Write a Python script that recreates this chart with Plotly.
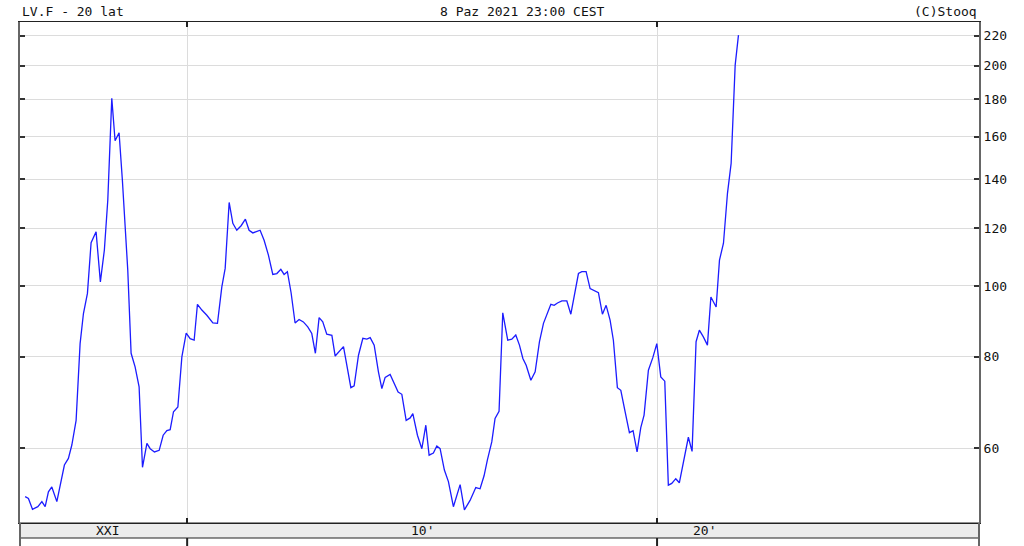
import datetime as dt
import plotly.graph_objects as go

# LV.F monthly closes (time as decimal year)
years = [
    2006.553, 2006.623, 2006.709, 2006.823, 2006.909, 2006.979, 2007.049, 2007.121, 2007.228, 2007.298,
    2007.389, 2007.474, 2007.547, 2007.638, 2007.723, 2007.794, 2007.879, 2007.957, 2008.064, 2008.155,
    2008.240, 2008.313, 2008.398, 2008.468, 2008.553, 2008.623, 2008.738, 2008.809, 2008.894, 2008.979,
    2009.049, 2009.143, 2009.213, 2009.304, 2009.404, 2009.489, 2009.568, 2009.638, 2009.709, 2009.802,
    2009.887, 2009.979, 2010.064, 2010.149, 2010.219, 2010.313, 2010.419, 2010.547, 2010.645, 2010.738,
    2010.809, 2010.894, 2010.972, 2011.057, 2011.149, 2011.240, 2011.319, 2011.398, 2011.483, 2011.553,
    2011.638, 2011.730, 2011.823, 2011.909, 2011.994, 2012.064, 2012.134, 2012.213, 2012.298, 2012.383,
    2012.474, 2012.568, 2012.653, 2012.730, 2012.809, 2012.887, 2012.972, 2013.079, 2013.149, 2013.240,
    2013.326, 2013.483, 2013.553, 2013.645, 2013.738, 2013.823, 2013.894, 2013.979, 2014.070, 2014.143,
    2014.213, 2014.319, 2014.404, 2014.489, 2014.568, 2014.660, 2014.745, 2014.802, 2014.900, 2014.994,
    2015.079, 2015.149, 2015.240, 2015.313, 2015.383, 2015.474, 2015.560, 2015.666, 2015.809, 2015.900,
    2016.021, 2016.143, 2016.234, 2016.319, 2016.389, 2016.483, 2016.553, 2016.638, 2016.717, 2016.823,
    2016.909, 2016.994, 2017.070, 2017.143, 2017.213, 2017.313, 2017.404, 2017.496, 2017.581, 2017.653,
    2017.738, 2017.809, 2017.879, 2017.972, 2018.079, 2018.164, 2018.255, 2018.326, 2018.398, 2018.489,
    2018.574, 2018.660, 2018.751, 2018.836, 2018.915, 2019.000, 2019.070, 2019.155, 2019.228, 2019.319,
    2019.411, 2019.489, 2019.574, 2019.653, 2019.723, 2019.815, 2019.909, 2019.994, 2020.079, 2020.164,
    2020.240, 2020.313, 2020.398, 2020.474, 2020.596, 2020.666, 2020.745, 2020.830, 2020.900, 2020.985,
    2021.070, 2021.143, 2021.255, 2021.326, 2021.411, 2021.496, 2021.574, 2021.660, 2021.730,
]
prices = [
    51.5, 51.2, 49.5, 49.9, 50.7, 49.9, 52.3, 53.1, 50.7, 53.1,
    56.9, 58.1, 60.6, 65.5, 83.4, 91.7, 97.7, 114.6, 118.6, 101.3,
    112.0, 131.1, 180.6, 158.0, 162.0, 139.6, 105.1, 80.9, 77.5, 72.8,
    56.5, 60.9, 59.9, 59.3, 59.6, 62.5, 63.4, 63.6, 67.3, 68.3,
    80.0, 86.2, 84.7, 84.3, 94.4, 92.7, 91.2, 89.0, 88.9, 99.7,
    105.7, 130.1, 121.8, 119.2, 120.9, 123.4, 119.2, 118.2, 118.6, 119.2,
    115.5, 110.2, 103.7, 104.0, 105.4, 103.7, 104.6, 97.9, 89.0, 90.0,
    89.3, 87.9, 86.1, 80.9, 90.5, 89.3, 85.9, 85.6, 80.2, 81.5,
    82.6, 72.6, 73.0, 80.4, 84.8, 84.6, 85.0, 83.0, 76.3, 72.4,
    75.0, 75.7, 73.7, 71.6, 71.1, 65.5, 66.0, 66.9, 62.5, 59.9,
    64.5, 58.7, 59.1, 60.4, 59.9, 56.0, 54.0, 49.9, 53.5, 49.4,
    50.9, 53.0, 52.8, 55.0, 57.8, 61.2, 65.9, 67.4, 91.9, 84.3,
    84.6, 85.7, 83.0, 79.6, 77.9, 74.3, 76.3, 83.9, 88.9, 91.2,
    94.4, 94.1, 94.8, 95.4, 95.4, 91.5, 98.2, 104.0, 104.6, 104.6,
    99.2, 98.5, 97.9, 91.5, 94.1, 89.8, 84.3, 72.6, 72.0, 67.3,
    63.0, 63.4, 59.3, 64.0, 66.6, 76.7, 79.8, 83.4, 75.1, 74.1,
    53.4, 53.7, 54.5, 53.8, 59.3, 62.1, 59.4, 83.9, 87.0, 85.2,
    83.0, 96.6, 93.6, 108.5, 114.4, 133.9, 147.1, 200.5, 220.4,
]

y_ticks = [60, 80, 100, 120, 140, 160, 180, 200, 220]
decade_lines = ['2010-01-01', '2020-01-01']
decade_labels = ['XXI', "10'", "20'"]
decade_label_pos = ['2008-04-25', '2015-01-01', '2021-01-01']


def to_date(y):
    yr = int(y)
    return dt.datetime(yr, 1, 1) + dt.timedelta(days=(y - yr) * 365.25)


dates = [to_date(y) for y in years]

MONO = 'DejaVu Sans Mono'
PLOT_H = 546 - 22 - 23
band = 15 / PLOT_H
below = 23 / PLOT_H

fig = go.Figure()
fig.add_trace(go.Scatter(
    x=dates, y=prices, mode='lines',
    line=dict(color='#1c1cff', width=1.3),
    hoverinfo='x+y', showlegend=False,
))

shapes = [
    # grey band holding the decade labels
    dict(type='rect', xref='paper', yref='paper', x0=0, x1=1, y0=-band, y1=0,
         fillcolor='#ececec', line=dict(color='#222222', width=1.2), layer='below'),
    # frame continues into the panel below
    dict(type='line', xref='paper', yref='paper', x0=0, x1=0, y0=-below, y1=0,
         line=dict(color='#666666', width=2)),
    dict(type='line', xref='paper', yref='paper', x0=1, x1=1, y0=-below, y1=0,
         line=dict(color='#666666', width=2)),
]
for d in decade_lines:
    shapes.append(dict(type='line', xref='x', yref='paper', x0=d, x1=d,
                       y0=-below, y1=-band, line=dict(color='#222222', width=2)))

annotations = [
    dict(text='LV.F - 20 lat', xref='paper', yref='paper', x=0, y=1 + 11 / PLOT_H,
         xanchor='left', yanchor='middle', showarrow=False),
    dict(text='8 Paz 2021 23:00 CEST', xref='paper', yref='paper', x=(522 - 20) / 959,
         y=1 + 11 / PLOT_H, xanchor='center', yanchor='middle', showarrow=False),
    dict(text='(C)Stooq', xref='paper', yref='paper', x=1, y=1 + 11 / PLOT_H,
         xanchor='right', yanchor='middle', showarrow=False),
]
for lab, pos in zip(decade_labels, decade_label_pos):
    annotations.append(dict(text=lab, xref='x', yref='paper', x=pos, y=-band / 2,
                            xanchor='center', yanchor='middle', showarrow=False))

fig.update_layout(
    width=1024, height=546,
    margin=dict(l=20, r=45, t=22, b=23),
    paper_bgcolor='white', plot_bgcolor='white',
    font=dict(family=MONO, size=13, color='#111111'),
    xaxis=dict(
        type='date', range=['2006-06-12', '2026-11-07'],
        tickvals=decade_lines, showticklabels=False,
        showgrid=True, gridcolor='#dcdcdc', gridwidth=1,
        ticks='inside', ticklen=5, tickwidth=2, tickcolor='#222222',
        showline=True, linecolor='#222222', linewidth=1.2, mirror='ticks',
        zeroline=False,
    ),
    yaxis=dict(
        type='log', side='right', range=[1.6758, 2.3611],
        tickvals=y_ticks, ticktext=[str(v) for v in y_ticks],
        showgrid=True, gridcolor='#dcdcdc', gridwidth=1,
        ticks='inside', ticklen=5, tickwidth=1.5, tickcolor='#333333',
        showline=True, linecolor='#666666', linewidth=2, mirror='ticks',
        tickfont=dict(family=MONO, size=13, color='#111111'),
        zeroline=False,
    ),
    shapes=shapes,
    annotations=annotations,
)

# drop the browser's default 8px page margin so the figure sits at (0, 0)
fig.write_html('out.html', config={'displayModeBar': False},
               post_script="document.body.style.margin='0';")
